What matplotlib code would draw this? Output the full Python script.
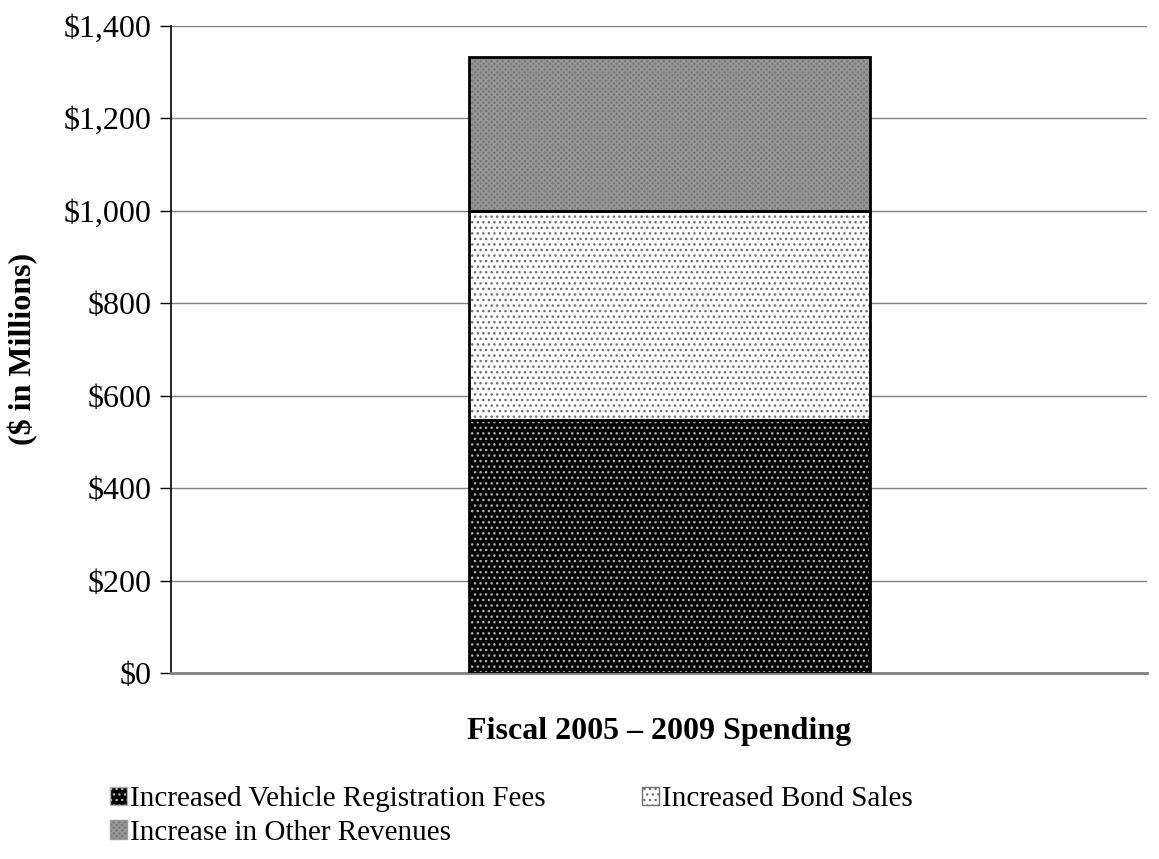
import matplotlib.pyplot as plt
import matplotlib.patches as mpatches
from matplotlib.ticker import FuncFormatter

plt.rcParams['font.family'] = ['Liberation Serif', 'DejaVu Serif']
plt.rcParams['hatch.linewidth'] = 1.0

category = ["Fiscal 2005 \u2013 2009 Spending"]
series = ["Increased Vehicle Registration Fees", "Increased Bond Sales",
          "Increase in Other Revenues"]
values = [548, 452, 333]

# face colour, hatch colour, hatch pattern for each segment
styles = [("#000000", "#b0b0b0", "..."),
          ("#ffffff", "#707070", "..."),
          ("#7a7a7a", "#9a9a9a", "xxxxxx")]

fig = plt.figure(figsize=(11.59, 8.59), dpi=100)
ax = fig.add_axes([0.1475, 0.2165, 0.842, 0.7535])

bottom = 0
handles = []
for val, (face, hcol, hatch), name in zip(values, styles, series):
    ax.bar(0, val, bottom=bottom, width=0.822, color=face, edgecolor=hcol,
           hatch=hatch, linewidth=0, zorder=2)
    ax.bar(0, val, bottom=bottom, width=0.822, fill=False, edgecolor="black",
           linewidth=2, zorder=3)
    bottom += val
    handles.append(mpatches.Patch(facecolor=face, edgecolor=hcol, hatch=hatch))

ax.set_xlim(-1.0225, 0.9775)
ax.set_ylim(0, 1400)
ax.set_yticks(range(0, 1401, 200))
ax.yaxis.set_major_formatter(FuncFormatter(lambda v, p: f"${v:,.0f}"))
ax.set_xticks([])
ax.tick_params(axis="y", labelsize=23, length=8, width=1, direction="out",
               color="black", pad=6)
ax.grid(axis="y", color="#808080", linewidth=1, zorder=0)

for side in ("top", "right"):
    ax.spines[side].set_visible(False)
ax.spines["left"].set_color("black")
ax.spines["left"].set_linewidth(1.2)
ax.spines["bottom"].set_color("#808080")
ax.spines["bottom"].set_linewidth(2)

ax.set_xlabel(category[0], fontsize=23, fontweight="bold", labelpad=32)
ax.set_ylabel("($ in Millions)", fontsize=23, fontweight="bold", labelpad=18)

# row-major order: matplotlib fills legend columns first
order = [0, 2, 1]
fig.legend([handles[i] for i in order], [series[i] for i in order],
           loc="lower left", bbox_to_anchor=(0.072, -0.015),
           ncol=2, frameon=False, fontsize=21, handlelength=0.6,
           handleheight=0.6, handletextpad=0.1, columnspacing=3.3,
           labelspacing=0.25)

fig.savefig("out.png", dpi=100)
